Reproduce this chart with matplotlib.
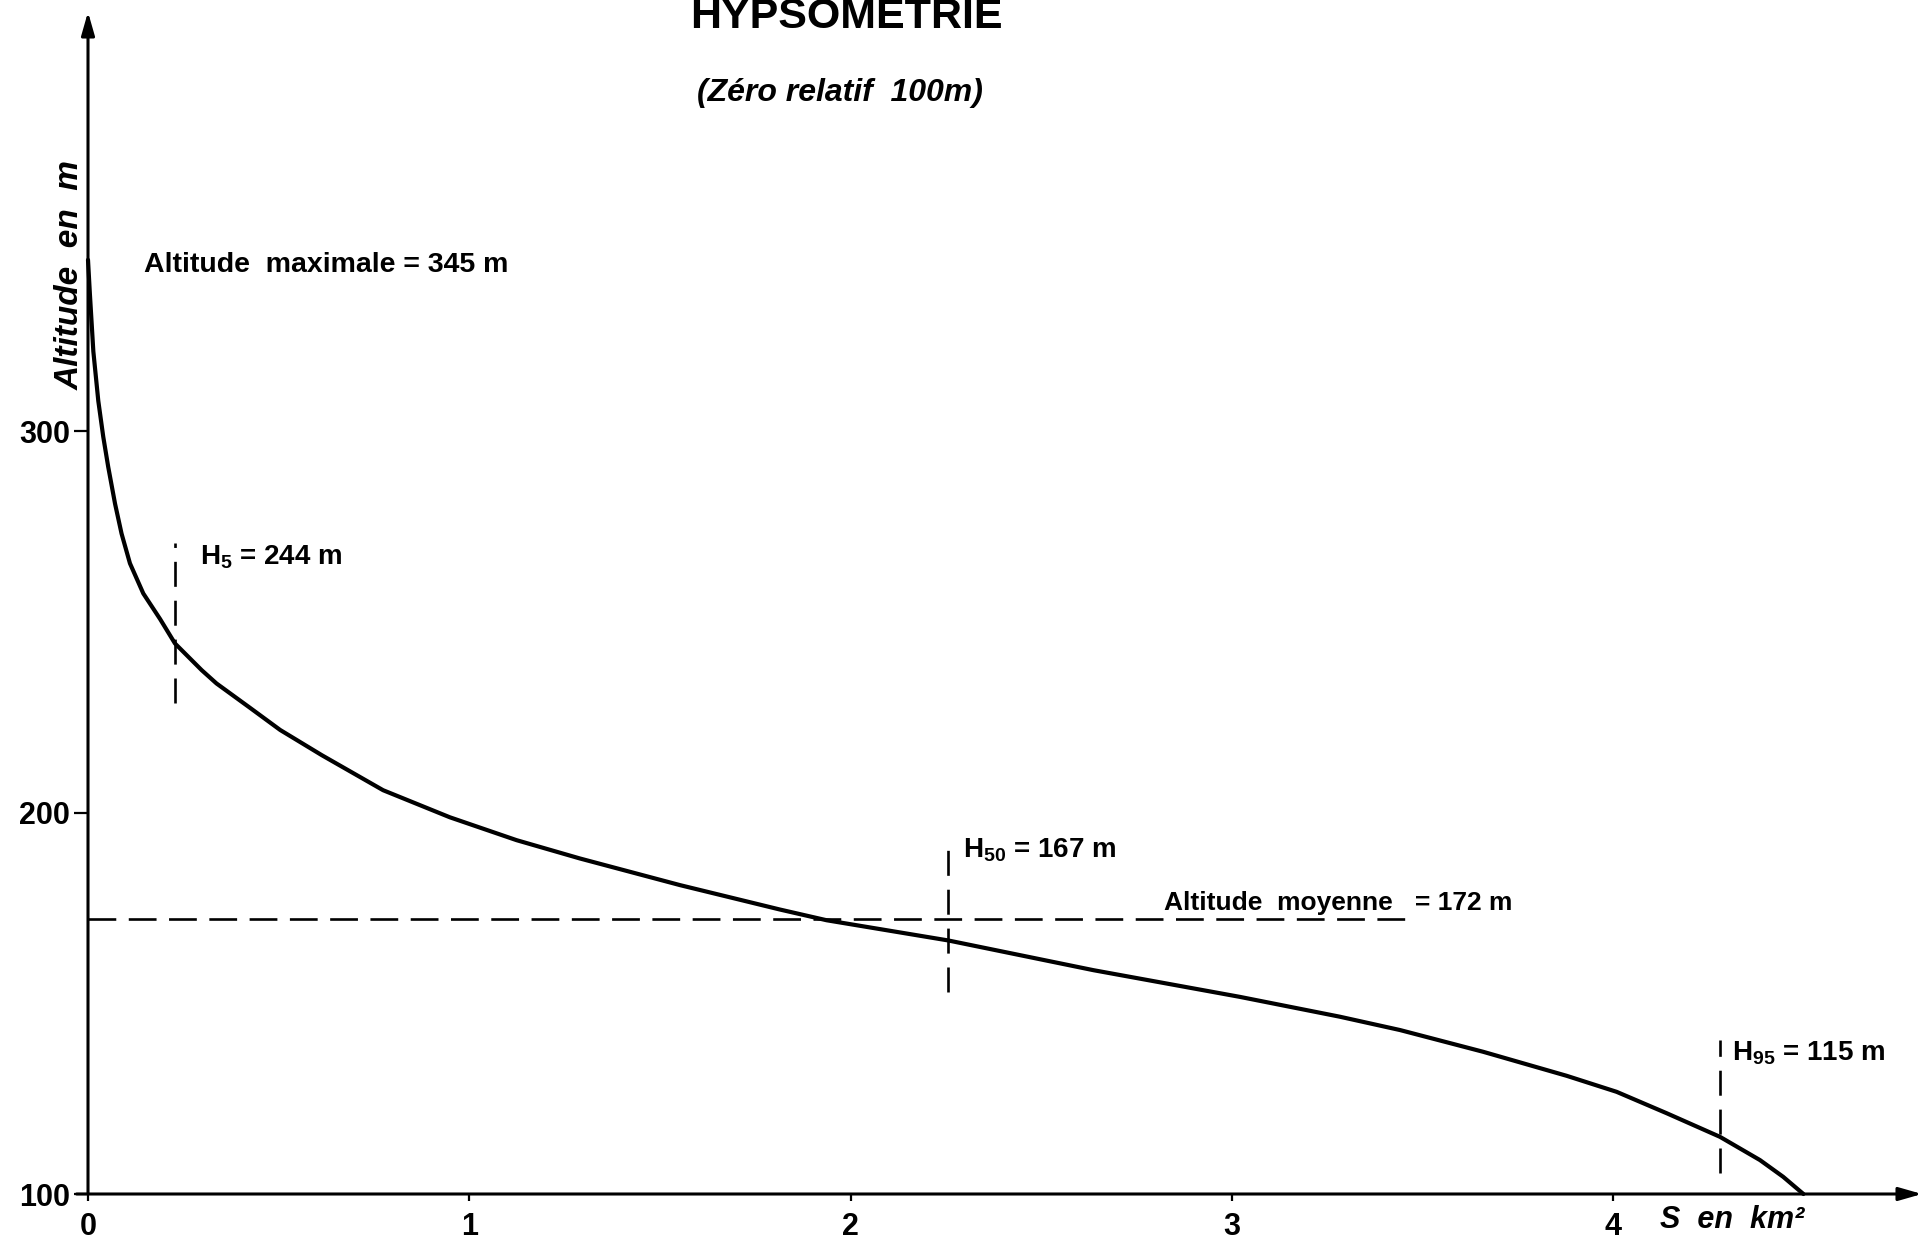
import matplotlib
matplotlib.use("Agg")
import matplotlib.pyplot as plt

# hypsometric curve (S in km2, altitude in m)
surface = [0.000, 0.005, 0.014, 0.027, 0.040, 0.053, 0.071, 0.088, 0.110, 0.145,
           0.189, 0.228, 0.298, 0.337, 0.425, 0.504, 0.613, 0.774, 0.949, 1.124,
           1.290, 1.553, 1.815, 1.937, 2.256, 2.637, 3.021, 3.283, 3.441, 3.659,
           3.878, 4.009, 4.140, 4.280, 4.385, 4.446, 4.499]
altitude = [345, 336, 321, 308, 298.6, 290.7, 281, 273.2, 265.4, 257.5,
            250.8, 244.4, 237.4, 233.9, 227.5, 221.7, 215.1, 205.9, 198.8, 192.8,
            188.0, 181, 174.6, 171.8, 166.5, 158.7, 151.7, 146.5, 143, 137.3,
            131.0, 126.8, 121.2, 115, 108.9, 104.5, 100]

alt_max = 345
alt_mean = 172
h_marks = ["5", "50", "95"]
h_surface = [0.228, 2.255, 4.280]
h_values = [244, 167, 115]
h_span = [(228.7, 270.7), (153, 192), (105.5, 140.4)]
h_label_pos = [(0.294, 267), (2.295, 190.2), (4.312, 137)]

xticks = [0, 1, 2, 3, 4]
yticks = [100, 200, 300]

plt.rcParams["lines.scale_dashes"] = False
plt.rcParams["mathtext.fontset"] = "custom"
plt.rcParams["mathtext.rm"] = "Liberation Sans:bold"
plt.rcParams["mathtext.default"] = "rm"

sans = ["Liberation Sans", "DejaVu Sans"]

fig = plt.figure(figsize=(19.26, 12.39), dpi=100)
ax = fig.add_axes([88/1926, 45/1239, 1834/1926, 1182/1239])
ax.set_xlim(0, 4.81)
ax.set_ylim(100, 410)
for s in ax.spines.values():
    s.set_visible(False)

# axes with arrows
arr = dict(arrowstyle="-|>,head_length=0.7,head_width=0.2", color="black",
           lw=2.2, shrinkA=0, shrinkB=0, mutation_scale=20)
ax.annotate("", xy=(0, 410), xytext=(0, 100), arrowprops=arr, annotation_clip=False)
ax.annotate("", xy=(4.81, 100), xytext=(-0.03, 100), arrowprops=arr, annotation_clip=False)

ax.set_xticks(xticks)
ax.set_yticks(yticks)
ax.tick_params(axis="x", direction="out", length=5, width=1.6, pad=8)
ax.tick_params(axis="y", direction="out", length=10, width=1.6, pad=3)
for lab in ax.get_xticklabels() + ax.get_yticklabels():
    lab.set_family(sans)
    lab.set_fontsize(22)
    lab.set_fontweight("bold")

ax.plot(surface, altitude, color="black", lw=3.0, solid_capstyle="round",
        solid_joinstyle="round", clip_on=False)

# mean altitude
ax.plot([0, 3.464], [alt_mean, alt_mean], color="black", lw=1.9, dashes=(20, 9))
ax.text(2.822, 176.3, "Altitude  moyenne   = %d m" % alt_mean, fontsize=19,
        fontweight="bold", family=sans, va="center", ha="left")

# H5 / H50 / H95 markers
for m, xs, v, sp, pos in zip(h_marks, h_surface, h_values, h_span, h_label_pos):
    ax.plot([xs, xs], sp, color="black", lw=1.9, dashes=(18, 10))
    ax.text(pos[0], pos[1], "H$_{%s}$ = %d m" % (m, v), fontsize=20,
            fontweight="bold", family=sans, va="center", ha="left")

ax.text(0.147, 343.6, "Altitude  maximale = %d m" % alt_max, fontsize=20.5,
        fontweight="bold", family=sans, va="center", ha="left")

ax.set_ylabel("Altitude  en  m", fontsize=24, fontweight="bold", style="italic",
              family=sans)
ax.yaxis.label.set_va("center")
ax.yaxis.set_label_coords(-0.0095, 0.7775)
ax.set_xlabel("S  en  km²", fontsize=22, fontweight="bold", style="italic",
              family=sans)
ax.xaxis.set_label_coords(0.8965, -0.022)
ax.xaxis.label.set_va("center")

fig.text(846/1926, 1 - 28/1239, "HYPSOMETRIE", ha="center", va="baseline",
         fontsize=31, fontweight="bold", family=sans)
fig.text(840/1926, 1 - 93/1239, "(Zéro relatif  100m)", ha="center", va="center",
         fontsize=23, fontweight="bold", style="italic", family=sans)

fig.savefig("out.png", dpi=100)
